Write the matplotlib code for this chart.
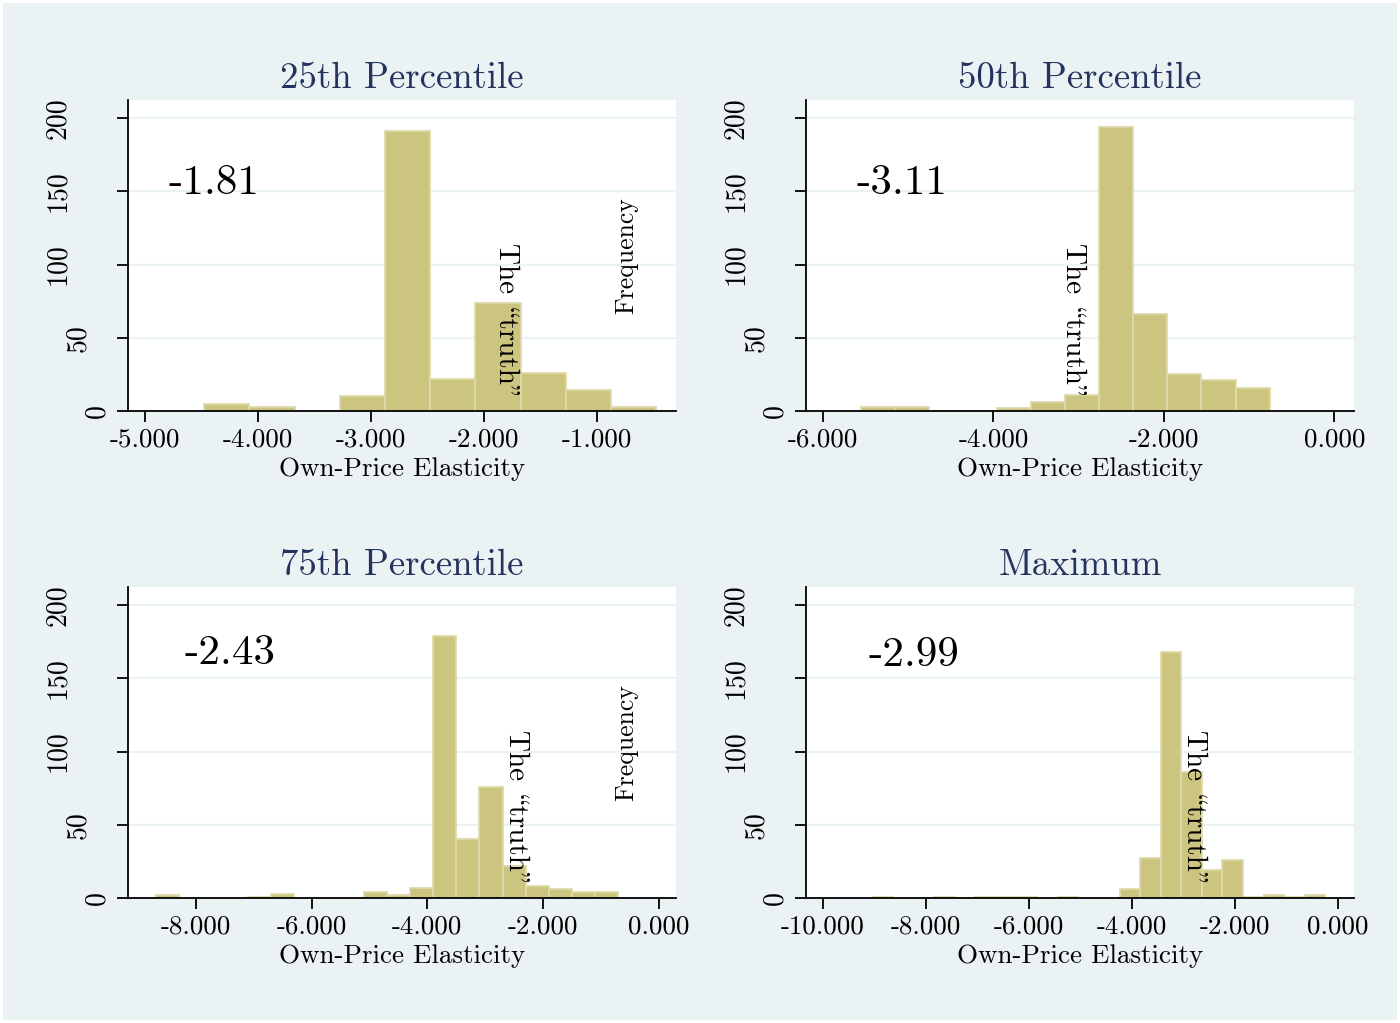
import matplotlib
matplotlib.use("Agg")
import matplotlib.pyplot as plt
import numpy as np
from matplotlib.patches import Rectangle

plt.rcParams['font.family'] = ['cmr10', 'DejaVu Serif']
plt.rcParams['axes.unicode_minus'] = False

# panel data: histogram bins (start, width) and counts
titles = ['25th Percentile', '50th Percentile', '75th Percentile', 'Maximum']
truth = ['-1.81', '-3.11', '-2.43', '-2.99']

bin_start = [-4.475, -5.56, -8.70, -9.036]
bin_width = [0.40, 0.40, 0.40, 0.40]

counts_p25 = [5, 3, 0, 10, 191, 22, 74, 26, 14, 3]
counts_p50 = [3, 3, 0, 0, 2, 6, 11, 194, 66, 25, 21, 16]
counts_p75 = [2, 0, 0, 0, 1, 3, 0, 0, 0, 4, 2, 7, 179, 40, 76, 22, 8, 6, 4, 4]
counts_max = [1, 0, 0, 1, 0, 1, 1, 1, 0, 1, 0, 0, 6, 27, 168, 86, 19, 26, 1, 2, 1, 2]
counts = [counts_p25, counts_p50, counts_p75, counts_max]

xticks = [[-5, -4, -3, -2, -1], [-6, -4, -2, 0], [-8, -6, -4, -2, 0], [-10, -8, -6, -4, -2, 0]]
xlims = [(-5.15, -0.30), (-6.20, 0.23), (-9.18, 0.30), (-10.33, 0.32)]
yticks = [0, 50, 100, 150, 200]

# where the "truth" label sits along x, and where the numbers sit
truth_label_x = [-1.80, -3.07, -2.47, -2.79]
number_pos = [(0.073, 0.698), (0.093, 0.698), (0.103, 0.752), (0.114, 0.745)]

bg = '#EAF2F3'
bar_face = '#CCC580'
bar_edge = '#DEDAAA'
title_col = '#24345F'

fig = plt.figure(figsize=(14, 10.23), dpi=100, facecolor='white')
fig.patches.append(Rectangle((3 / 1400, 3 / 1023), 1394 / 1400, 1017 / 1023,
                             transform=fig.transFigure, facecolor=bg,
                             edgecolor='none', zorder=-10))

rects = [(128, 100), (806, 100), (128, 587), (806, 587)]
for i in range(4):
    left, top = rects[i]
    ax = fig.add_axes([left / 1400, 1 - (top + 311) / 1023, 548 / 1400, 311 / 1023])
    ax.set_facecolor('white')
    c = np.array(counts[i])
    edges = bin_start[i] + bin_width[i] * np.arange(len(c))
    ax.bar(edges, c, width=bin_width[i], align='edge', color=bar_face,
           edgecolor=bar_edge, linewidth=1.3, zorder=2)
    ax.set_xlim(*xlims[i])
    ax.set_ylim(0, 212.3)
    ax.set_xticks(xticks[i])
    ax.set_xticklabels(['%.3f' % v for v in xticks[i]], fontsize=19.5)
    ax.set_yticks(yticks)
    ax.set_yticklabels([])
    ax.yaxis.grid(True, color=bg, linewidth=1.6, zorder=0)
    ax.set_axisbelow(True)
    for s in ['top', 'right']:
        ax.spines[s].set_visible(False)
    for s in ['left', 'bottom']:
        ax.spines[s].set_linewidth(1.3)
    ax.tick_params(direction='out', length=8, width=1.3, pad=4)
    # stata-style rotated y labels, shifted left by label length
    for v in yticks:
        lab = str(v)
        off = -(31 + 19.5 * (len(lab) - 1)) * 0.72
        ax.annotate(lab, xy=(0, v), xycoords=('axes fraction', 'data'),
                    xytext=(off, 0), textcoords='offset points',
                    rotation=90, ha='center', va='center', fontsize=20)
    ax.set_xlabel('Own-Price Elasticity', fontsize=19.5, labelpad=4)
    ax.set_title(titles[i], fontsize=26.5, color=title_col, pad=8.4)
    ax.text(number_pos[i][0], number_pos[i][1], truth[i], transform=ax.transAxes,
            fontsize=31, ha='left', va='baseline')
    # cmr10 keeps TeX slots: backslash -> left quotes, " -> right quotes
    ax.text(truth_label_x[i], 115, 'The \\truth"', rotation=270, ha='center',
            va='top', fontsize=21, zorder=3)
    if i % 2 == 0:
        ax.text(0.909, 0.50, 'Frequency', transform=ax.transAxes, rotation=90,
                ha='center', va='center', fontsize=18.5, zorder=3)

fig.savefig('out.png', dpi=100, facecolor='white')
